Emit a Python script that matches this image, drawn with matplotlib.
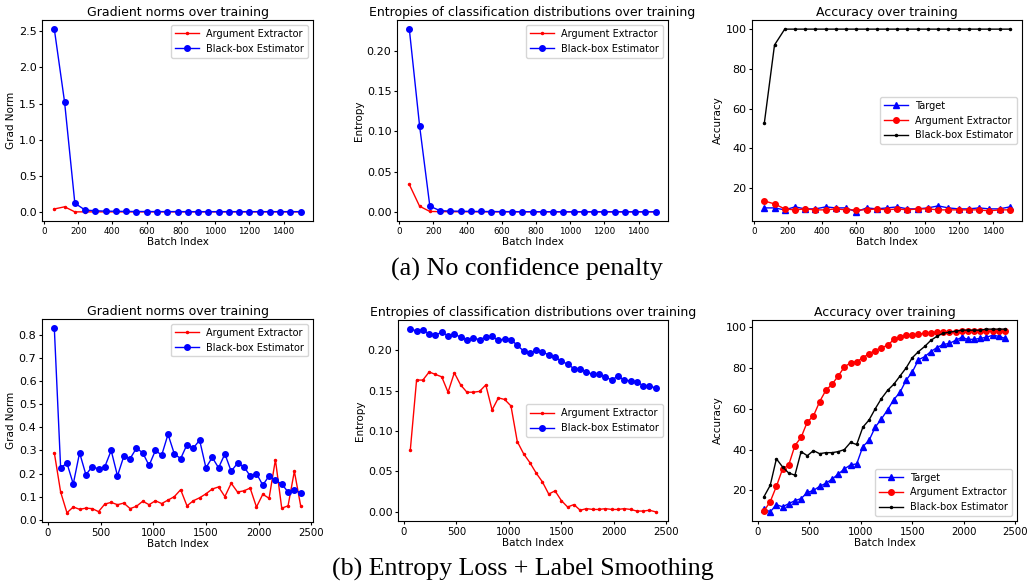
import matplotlib
matplotlib.use("Agg")
import matplotlib.pyplot as plt
import numpy as np

# batch indices
x_a = np.arange(60, 1501, 60)   # no confidence penalty run
x_b = np.arange(60, 2401, 60)   # entropy loss + label smoothing run

# (a) no confidence penalty
grad_arg_a = [0.04, 0.07, 0.0, 0.0, 0.0, 0.0, 0.0, 0.0, 0.0, 0.0, 0.0, 0.0, 0.0,
              0.0, 0.0, 0.0, 0.0, 0.0, 0.0, 0.0, 0.0, 0.0, 0.0, 0.0, 0.0]
grad_bb_a = [2.53, 1.52, 0.12, 0.025, 0.015, 0.01, 0.008, 0.006, 0.005, 0.005,
             0.004, 0.004, 0.004, 0.003, 0.003, 0.003, 0.003, 0.003, 0.003,
             0.003, 0.003, 0.003, 0.003, 0.003, 0.003]
ent_arg_a = [0.034, 0.007, 0.0005, 0.0003, 0.0002, 0.0001, 0.0001, 0.0, 0.0, 0.0,
             0.0, 0.0, 0.0, 0.0, 0.0, 0.0, 0.0, 0.0, 0.0, 0.0, 0.0, 0.0, 0.0, 0.0, 0.0]
ent_bb_a = [0.227, 0.107, 0.007, 0.0015, 0.001, 0.0008, 0.0006, 0.0005, 0.0004,
            0.0003, 0.0003, 0.0002, 0.0002, 0.0002, 0.0002, 0.0001, 0.0001,
            0.0001, 0.0001, 0.0001, 0.0001, 0.0001, 0.0001, 0.0001, 0.0001]
acc_tgt_a = [10, 10, 9, 10.5, 9.5, 9.5, 10.5, 10, 10, 8, 10, 9.5, 10, 10.5, 9.5,
             9.5, 10, 11, 10, 9.5, 9.5, 10, 9.5, 9.5, 10.5]
acc_arg_a = [13.5, 12, 9.5, 9, 9.5, 9, 9, 9.5, 9, 9, 9, 9.5, 9, 9.5, 9, 9.5, 9.5,
             9, 9, 9, 9, 9, 8.5, 9, 9]
acc_bb_a = [52.5, 92, 100, 100, 100, 100, 100, 100, 100, 100, 100, 100, 100,
            100, 100, 100, 100, 100, 100, 100, 100, 100, 100, 100, 100]

# (b) entropy loss + label smoothing
grad_arg_b = [0.29, 0.12, 0.03, 0.055, 0.045, 0.05, 0.048, 0.035, 0.068, 0.075,
              0.065, 0.072, 0.048, 0.058, 0.08, 0.065, 0.082, 0.07, 0.085, 0.10,
              0.13, 0.06, 0.082, 0.095, 0.112, 0.133, 0.142, 0.10, 0.158, 0.12,
              0.125, 0.137, 0.055, 0.11, 0.093, 0.26, 0.05, 0.06, 0.21, 0.06]
grad_bb_b = [0.83, 0.225, 0.245, 0.155, 0.29, 0.195, 0.23, 0.22, 0.23, 0.30,
             0.19, 0.275, 0.265, 0.31, 0.29, 0.235, 0.30, 0.28, 0.37, 0.285,
             0.265, 0.325, 0.31, 0.345, 0.225, 0.27, 0.225, 0.285, 0.21, 0.245,
             0.23, 0.19, 0.20, 0.15, 0.19, 0.17, 0.155, 0.12, 0.13, 0.115]
ent_arg_b = [0.076, 0.163, 0.163, 0.173, 0.170, 0.167, 0.148, 0.172, 0.157, 0.148,
             0.148, 0.149, 0.157, 0.126, 0.141, 0.139, 0.131, 0.087, 0.072, 0.061,
             0.048, 0.037, 0.022, 0.026, 0.014, 0.006, 0.009, 0.002, 0.004, 0.003,
             0.003, 0.004, 0.003, 0.003, 0.004, 0.003, 0.001, 0.001, 0.002, 0.000]
ent_bb_b = [0.226, 0.224, 0.225, 0.220, 0.219, 0.222, 0.218, 0.220, 0.216, 0.213,
            0.215, 0.213, 0.216, 0.217, 0.212, 0.214, 0.213, 0.206, 0.199, 0.196,
            0.200, 0.198, 0.194, 0.192, 0.186, 0.183, 0.177, 0.177, 0.173, 0.170,
            0.170, 0.167, 0.163, 0.168, 0.163, 0.162, 0.161, 0.156, 0.156, 0.153]
acc_tgt_b = [11, 9.5, 13, 12, 13.5, 15, 16, 19, 20, 22, 23.5, 25.5, 28, 30.5,
             32.5, 33, 41.5, 44.5, 51, 55, 59.5, 64.5, 68, 74, 78, 84, 85.5, 88,
             90, 91.5, 92, 93.5, 95, 94, 94, 94.5, 95, 96, 95.5, 94.5]
acc_arg_b = [10, 14.5, 22, 30.5, 32.5, 42, 46, 53.5, 56.5, 63.5, 69, 72, 76, 80.5,
             82.5, 83, 85, 87, 88.5, 90, 91, 94, 95, 96, 96, 96.5, 97, 97, 97.5,
             97.5, 97.5, 97.5, 98, 98, 98, 98, 98, 98, 98, 98]
acc_bb_b = [17, 22.5, 35.5, 31.5, 28.5, 27.5, 39, 37, 39.5, 38, 38.5, 38.5, 39, 40,
            43.5, 42.5, 51, 54.5, 60, 65, 69, 72, 76, 80, 85, 88, 90.5, 93.5,
            95.5, 97, 97.5, 98, 98.5, 98.5, 98.5, 98.5, 99, 99, 99, 99]

TITLE_FS = 9
LABEL_FS = 7.5
YTICK_FS = 8
LEG_FS = 7

fig = plt.figure(figsize=(10.34, 5.83), dpi=100)
W, H = 1034.0, 583.0


def make_ax(left, top, right, bottom):
    return fig.add_axes([left / W, 1 - bottom / H, (right - left) / W, (bottom - top) / H])


def style(ax, title, ylabel, xtick_fs):
    ax.set_title(title, fontsize=TITLE_FS, pad=3)
    ax.set_xlabel("Batch Index", fontsize=LABEL_FS, labelpad=1)
    ax.set_ylabel(ylabel, fontsize=LABEL_FS, labelpad=2)
    ax.tick_params(length=2.5, pad=1.5)
    ax.tick_params(axis="y", labelsize=YTICK_FS)
    ax.tick_params(axis="x", labelsize=xtick_fs)


def grad_panel(ax, x, arg, bb, xfs):
    ax.plot(x, arg, "r.-", lw=1, ms=3, label="Argument Extractor")
    ax.plot(x, bb, "bo-", lw=1, ms=4, label="Black-box Estimator")
    style(ax, "Gradient norms over training", "Grad Norm", xfs)


def ent_panel(ax, x, arg, bb, xfs):
    ax.plot(x, arg, "r.-", lw=1, ms=3, label="Argument Extractor")
    ax.plot(x, bb, "bo-", lw=1, ms=4, label="Black-box Estimator")
    style(ax, "Entropies of classification distributions over training", "Entropy", xfs)


def acc_panel(ax, x, tgt, arg, bb, xfs):
    ax.plot(x, tgt, "b^-", lw=1, ms=4, label="Target")
    ax.plot(x, arg, "ro-", lw=1, ms=4, label="Argument Extractor")
    ax.plot(x, bb, "k.-", lw=1, ms=3, label="Black-box Estimator")
    style(ax, "Accuracy over training", "Accuracy", xfs)


leg_kw = dict(fontsize=LEG_FS, handlelength=2.4)

# row (a)
ax1 = make_ax(42, 20, 313, 221)
grad_panel(ax1, x_a, grad_arg_a, grad_bb_a, 6.3)
ax1.set_xticks(np.arange(0, 1401, 200))
ax1.legend(loc="upper right", **leg_kw)

ax2 = make_ax(397, 20, 668, 221)
ent_panel(ax2, x_a, ent_arg_a, ent_bb_a, 6.3)
ax2.set_xticks(np.arange(0, 1401, 200))
ax2.legend(loc="upper right", **leg_kw)

ax3 = make_ax(752, 20, 1022, 221)
acc_panel(ax3, x_a, acc_tgt_a, acc_arg_a, acc_bb_a, 6.3)
ax3.set_xticks(np.arange(0, 1401, 200))
ax3.set_yticks([20, 40, 60, 80, 100])
ax3.legend(loc="center right", **leg_kw)

# row (b)
ax4 = make_ax(42, 319, 313, 522)
grad_panel(ax4, x_b, grad_arg_b, grad_bb_b, 7.3)
ax4.set_xticks(np.arange(0, 2501, 500))
ax4.legend(loc="upper right", **leg_kw)

ax5 = make_ax(398, 320, 668, 521)
ent_panel(ax5, x_b, ent_arg_b, ent_bb_b, 7.3)
ax5.set_xticks(np.arange(0, 2501, 500))
ax5.legend(loc="center right", **leg_kw)

ax6 = make_ax(752, 320, 1017, 521)
acc_panel(ax6, x_b, acc_tgt_b, acc_arg_b, acc_bb_b, 7.3)
ax6.set_xticks(np.arange(0, 2501, 500))
ax6.set_yticks([20, 40, 60, 80, 100])
ax6.legend(loc="lower right", **leg_kw)

fig.text(527 / W, 1 - 269 / H, "(a) No confidence penalty", ha="center", va="center",
         fontsize=18.8, family="Liberation Serif")
fig.text(523 / W, 1 - 569 / H, "(b) Entropy Loss + Label Smoothing", ha="center",
         va="center", fontsize=18.6, family="Liberation Serif")

fig.savefig("out.png", dpi=100)
